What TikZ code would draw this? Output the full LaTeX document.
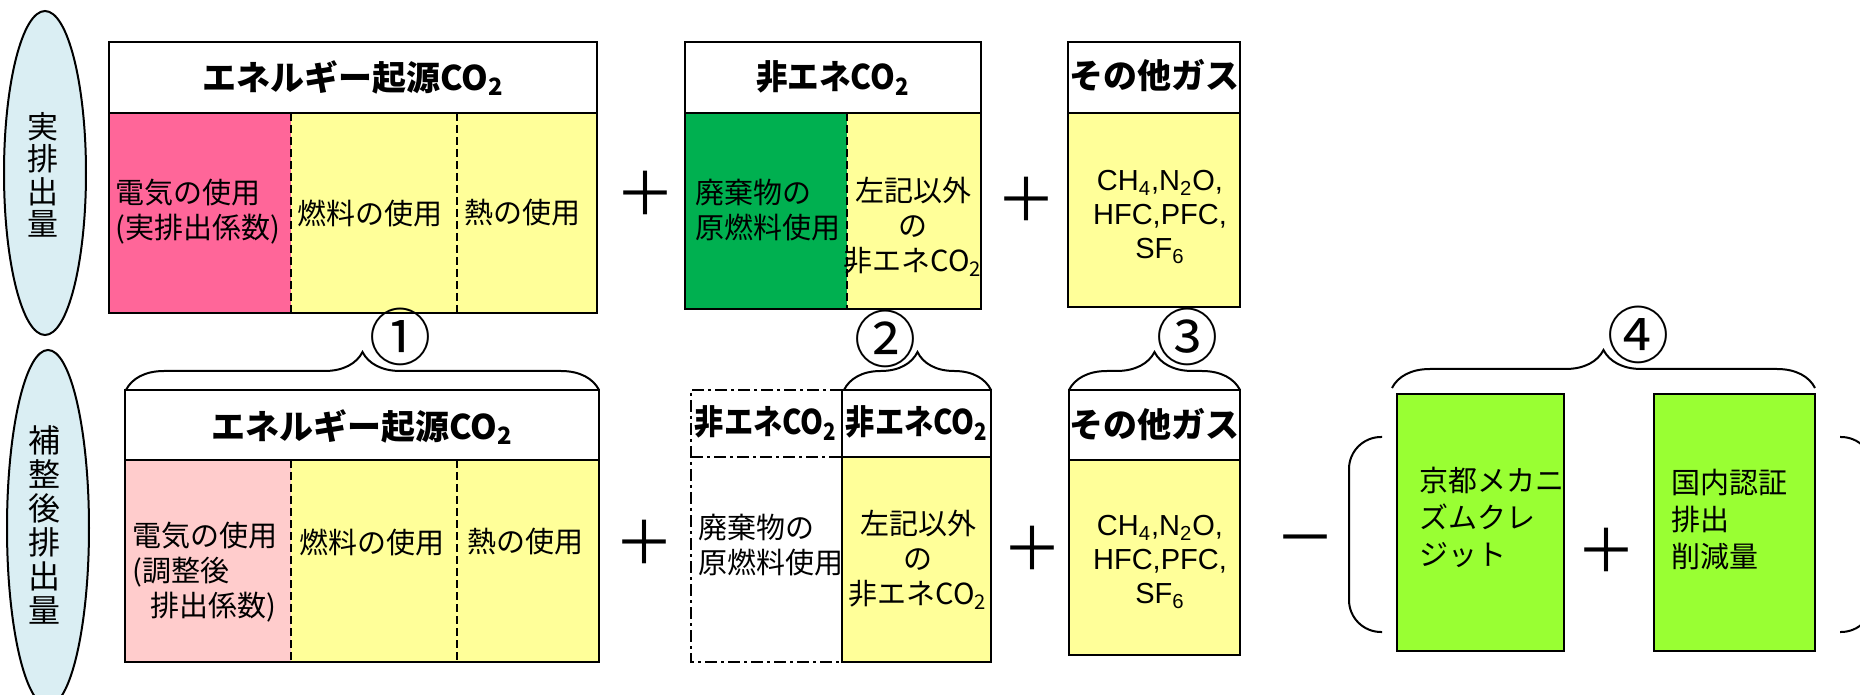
\documentclass[tikz,border=0pt]{standalone}
\usepackage{fontspec}
\setmainfont{Liberation Sans}
\newfontfamily\jp{Noto Sans CJK JP}
\usetikzlibrary{decorations.pathreplacing}
\definecolor{pinkA}{RGB}{255,102,153}
\definecolor{pinkB}{RGB}{255,204,204}
\definecolor{yel}{RGB}{255,255,153}
\definecolor{dgreen}{RGB}{0,176,80}
\definecolor{lime}{RGB}{153,255,51}
\definecolor{ell}{RGB}{218,238,243}
\begin{document}
\begin{tikzpicture}[x=0.5pt,y=-0.5pt,
  box/.style={draw=black, line width=1.3pt},
  div/.style={dash pattern=on 4pt off 2pt, line width=0.8pt},
  dd/.style={dash pattern=on 6pt off 2pt on 1.5pt off 2pt, line width=0.9pt},
  hdr/.style={font=\jp\bfseries\fontsize{17}{18}\selectfont, inner sep=0pt},
  nhdr/.style={hdr, xscale=0.86},
  body/.style={font=\jp\fontsize{14.5}{17.5}\selectfont, inner sep=0pt},
  gbody/.style={font=\jp\fontsize{14.5}{18.5}\selectfont, inner sep=0pt, align=left, anchor=west},
  gas/.style={font=\fontsize{14.5}{17}\selectfont, inner sep=0pt, align=center},
  op/.style={font=\jp\fontsize{30}{30}\selectfont, inner sep=0pt},
  num/.style={font=\jp\fontsize{31}{31}\selectfont, inner sep=0pt},
  vt/.style={font=\jp\fontsize{15.5}{16.25}\selectfont, inner sep=0pt, align=center},
  br/.style={decorate, decoration={brace, amplitude=19pt}, line width=1pt},
  paren/.style={line width=1pt, rounded corners=16pt}]
\useasboundingbox (0,0) rectangle (1860,695);

% ellipses
\draw[fill=ell, line width=1pt] (45,173) ellipse [x radius=20.5pt, y radius=81pt];
\node[vt] (e1) at (43,175) {実\\排\\出\\量};
\draw[fill=ell, line width=1pt] (48,528) ellipse [x radius=20.5pt, y radius=89pt];
\node[vt, font=\jp\fontsize{16}{17}\selectfont] (e2) at (44,525) {補\\整\\後\\排\\出\\量};

% ---------- top row ----------
% box A
\fill[pinkA] (109,113) rectangle (291,313);
\fill[yel] (291,113) rectangle (597,313);
\draw[div] (291,113) -- (291,313);
\draw[div] (457,113) -- (457,313);
\draw[box] (109,42) rectangle (597,313);
\draw[box] (109,113) -- (597,113);
\node[hdr] (hA) at (353,78) {エネルギー起源CO\textsubscript{2}};
\node[body, align=left, anchor=west] (tA1) at (115,212) {電気の使用\\(実排出係数)};
\node[body] (tA2) at (370,213) {燃料の使用};
\node[body] (tA3) at (522,213) {熱の使用};

\node[op] (p1) at (645,193) {＋};

% box B
\fill[dgreen] (685,113) rectangle (847,309);
\fill[yel] (847,113) rectangle (981,309);
\draw[div] (847,113) -- (847,309);
\draw[box] (685,42) rectangle (981,309);
\draw[box] (685,113) -- (981,113);
\node[nhdr, xscale=1.08] (hB) at (833,78) {非エネCO\textsubscript{2}};
\node[body, align=left, anchor=west] (tB1) at (695,210) {廃棄物の\\原燃料使用};
\node[body, align=center] (tB2) at (913,227) {左記以外\\の\\非エネCO\textsubscript{2}};

\node[op] (p2) at (1026,199) {＋};

% box C
\fill[yel] (1068,113) rectangle (1240,307);
\draw[box] (1068,42) rectangle (1240,307);
\draw[box] (1068,113) -- (1240,113);
\node[hdr] (hC) at (1154,76) {その他ガス};
\node[gas] (tC) at (1160,217) {CH\textsubscript{4},N\textsubscript{2}O,\\HFC,PFC,\\SF\textsubscript{6}};

% ---------- bottom row ----------
% box A'
\fill[pinkB] (125,460) rectangle (291,662);
\fill[yel] (291,460) rectangle (599,662);
\draw[div] (291,460) -- (291,662);
\draw[div] (457,460) -- (457,662);
\draw[box] (125,390) rectangle (599,662);
\draw[box] (125,460) -- (599,460);
\node[hdr] (hA2) at (362,427) {エネルギー起源CO\textsubscript{2}};
\node[body, align=left, anchor=west] (tA1b) at (132,572) {電気の使用\\(調整後\\\hspace{9pt}排出係数)};
\node[body] (tA2b) at (372,542) {燃料の使用};
\node[body] (tA3b) at (525,542) {熱の使用};
\draw[br] (126,390) -- (599,390);
\node[num] (n1) at (400,337) {①};

\node[op] (p3) at (644,542) {＋};

% dash-dot box
\draw[dd] (842,390) -- (691,390) -- (691,662) -- (842,662);
\draw[dd] (691,457) -- (842,457);
\node[nhdr] (hD) at (766,423) {非エネCO\textsubscript{2}};
\node[body, align=left, anchor=west] (tD1) at (698,545) {廃棄物の\\原燃料使用};

% box B'
\fill[yel] (842,457) rectangle (991,662);
\draw[box] (842,390) rectangle (991,662);
\draw[box] (842,457) -- (991,457);
\node[nhdr] (hB2) at (917,423) {非エネCO\textsubscript{2}};
\node[body, align=center] (tB2b) at (918,560) {左記以外\\の\\非エネCO\textsubscript{2}};
\draw[br] (844,390) -- (991,390);
\node[num] (n2) at (885,339) {②};

\node[op] (p4) at (1032,548) {＋};

% box C'
\fill[yel] (1069,460) rectangle (1240,655);
\draw[box] (1069,390) rectangle (1240,655);
\draw[box] (1069,460) -- (1240,460);
\node[hdr] (hC2) at (1154,425) {その他ガス};
\node[gas] (tC2) at (1160,562) {CH\textsubscript{4},N\textsubscript{2}O,\\HFC,PFC,\\SF\textsubscript{6}};
\draw[br] (1069,390) -- (1240,390);
\node[num] (n3) at (1187,337) {③};

\node[op] (m1) at (1305,547) {－};

% parens and credits
\draw[paren] (1382,437) -- (1349,437) -- (1349,632) -- (1382,632);
\draw[paren] (1840,437) -- (1873,437) -- (1873,632) -- (1840,632);
\fill[lime] (1397,394) rectangle (1564,651);
\draw[box] (1397,394) rectangle (1564,651);
\node[gbody] (g1) at (1419,517) {京都メカニ\\ズムクレ\\ジット};
\node[op] (p5) at (1606,550) {＋};
\fill[lime] (1654,394) rectangle (1815,651);
\draw[box] (1654,394) rectangle (1815,651);
\node[gbody] (g2) at (1671,520) {国内認証\\排出\\削減量};
\draw[br] (1392,388) -- (1815,388);
\node[num] (n4) at (1638,335) {④};
\end{tikzpicture}
\end{document}
